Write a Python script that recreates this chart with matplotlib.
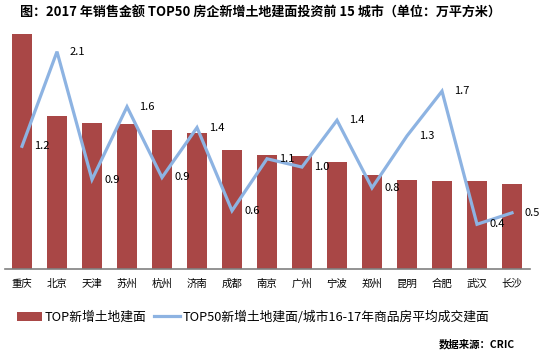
import numpy as np
import matplotlib
matplotlib.use('Agg')
import matplotlib.pyplot as plt

plt.rcParams['font.family'] = ['Noto Sans CJK SC', 'DejaVu Sans']

cities = ['重庆', '北京', '天津', '苏州', '杭州', '济南', '成都', '南京',
          '广州', '宁波', '郑州', '昆明', '合肥', '武汉', '长沙']
# TOP50 新增土地建面
land_area = [983, 640, 611, 607, 582, 569, 498, 477, 473, 448, 393, 372, 368, 368, 356]
# 新增土地建面 / 16-17年商品房平均成交建面
ratio = [1.18, 2.09, 0.86, 1.56, 0.88, 1.36, 0.56, 1.06, 0.98, 1.43,
         0.78, 1.28, 1.71, 0.43, 0.54]

bar_name = 'TOP新增土地建面'
line_name = 'TOP50新增土地建面/城市16-17年商品房平均成交建面'
title = '图：2017 年销售金额 TOP50 房企新增土地建面投资前 15 城市（单位：万平方米）'

W, H = 544, 356
fig = plt.figure(figsize=(W / 100, H / 100), dpi=100)
ax1 = fig.add_axes([4.5 / W, 1 - 269 / H, 525 / W, 239 / H])
ax2 = ax1.twinx()

x = np.arange(len(cities))
bars = ax1.bar(x, land_area, width=0.57, color='#A94746', label=bar_name, zorder=1)
ax1.set_ylim(0, 1000)
ax1.set_xlim(-0.5, len(cities) - 0.5)

line, = ax2.plot(x, ratio, color='#8DB3E2', lw=2.3, label=line_name, solid_joinstyle='miter')
ax2.set_ylim(0, 239 / 104)
for xi, v in zip(x, ratio):
    ax2.annotate(f'{v:.1f}', (xi, v), xytext=(9, 0), textcoords='offset points',
                 ha='left', va='center', fontsize=8, color='#000000')

for a in (ax1, ax2):
    for s in ('top', 'left', 'right'):
        a.spines[s].set_visible(False)
    a.set_yticks([])
ax2.spines['bottom'].set_visible(False)
ax1.spines['bottom'].set_color('#808080')
ax1.spines['bottom'].set_linewidth(1.2)
ax1.set_xticks(x)
ax1.set_xticklabels(cities, fontsize=7.5)
ax1.tick_params(axis='x', length=0, pad=7)

fig.legend([bars, line], [bar_name, line_name], loc='center',
           bbox_to_anchor=(0.465, 1 - 317 / H), ncol=2, frameon=False,
           fontsize=9.2, handlelength=2.0, handletextpad=0.2, columnspacing=0.6)

fig.text(20 / W, 1 - 13 / H, title, fontsize=9.4, fontweight='bold',
         ha='left', va='center')
fig.text(515 / W, 1 - 344 / H, '数据来源：CRIC', fontsize=7.5, fontweight='bold',
         ha='right', va='center')

fig.savefig('out.png', dpi=100)
